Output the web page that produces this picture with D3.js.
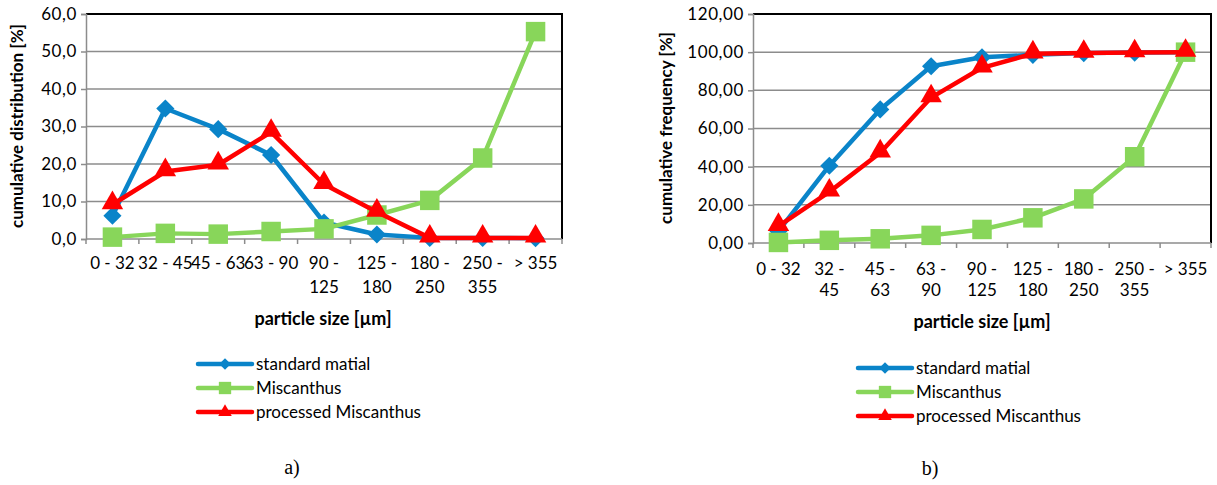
<!DOCTYPE html>
<html><head><meta charset="utf-8">
<script src="https://cdn.jsdelivr.net/npm/d3@7"></script>
<style>body{margin:0;background:#fff}svg{display:block}text{fill:#000}</style>
</head><body><svg id="c" width="1217" height="485"></svg>
<script>
const categories = ["0 - 32","32 - 45","45 - 63","63 - 90","90 - 125","125 - 180","180 - 250","250 - 355","> 355"];
const xLabelsA = [["0 - 32"],["32 - 45"],["45 - 63"],["63 - 90"],["90 -","125"],["125 -","180"],["180 -","250"],["250 -","355"],["> 355"]];
const xLabelsB = [["0 - 32"],["32 -","45"],["45 -","63"],["63 -","90"],["90 -","125"],["125 -","180"],["180 -","250"],["250 -","355"],["> 355"]];
const seriesNames = ["standard matial","Miscanthus","processed Miscanthus"];
// chart a: cumulative distribution [%]
const standardA  = [6.2, 34.8, 29.3, 22.4, 4.4, 1.2, 0.3, 0.3, 0.2];
const miscanthusA = [0.5, 1.5, 1.3, 2.0, 2.7, 6.4, 10.3, 21.6, 55.3];
const processedA = [9.2, 18.0, 19.8, 28.5, 14.6, 7.2, 0.3, 0.3, 0.3];
// chart b: cumulative frequency [%]
const standardB  = [6.2, 40.5, 70.0, 92.6, 97.3, 98.6, 99.5, 99.8, 100.0];
const miscanthusB = [0.3, 1.4, 2.2, 4.0, 7.1, 13.2, 23.1, 45.2, 100.0];
const processedB = [8.8, 26.8, 47.3, 76.2, 91.8, 99.2, 99.5, 99.8, 100.0];
const yTicksA = [0,10,20,30,40,50,60];
const yTicksB = [0,20,40,60,80,100,120];

const colors = ["#0a84c9","#88d65a","#ff0000"];
const squareDiamond = {draw(ctx,size){const r=Math.sqrt(size/2);ctx.moveTo(0,-r);ctx.lineTo(r,0);ctx.lineTo(0,r);ctx.lineTo(-r,0);ctx.closePath();}};
const symbols = [squareDiamond, d3.symbolSquare, d3.symbolTriangle];
const symSizes = [165, 380, 200];
const svg = d3.select("#c");
const SANS = "Lato, 'Open Sans', sans-serif";

function chart(cfg){
  const g = svg.append("g").style("font-family",SANS);
  const x = d3.scaleBand().domain(categories).range([cfg.x0, cfg.x1]);
  const y = d3.scaleLinear().domain([0, cfg.ymax]).range([cfg.y1, cfg.y0]);
  g.selectAll(".grid").data(cfg.yTicks.filter(t=>t>0 && t<cfg.ymax)).join("line")
    .attr("x1",cfg.x0).attr("x2",cfg.x1).attr("y1",d=>y(d)).attr("y2",d=>y(d))
    .attr("stroke","#8c8c8c").attr("stroke-width",1.5);
  g.append("path").attr("d",`M${cfg.x0},${y(cfg.ymax)}H${cfg.x1}V${y(0)}`).attr("fill","none").attr("stroke","#000").attr("stroke-width",2);
  const ya = d3.axisLeft(y).tickValues(cfg.yTicks).tickSize(5).tickPadding(4).tickFormat(cfg.fmt);
  const yg = g.append("g").attr("transform",`translate(${cfg.x0},0)`).call(ya);
  yg.attr("font-family",null).attr("font-size",null);
  yg.select(".domain").attr("stroke","#8c8c8c").attr("stroke-width",1.5);
  yg.selectAll(".tick line").attr("stroke","#8c8c8c").attr("stroke-width",1.5);
  yg.selectAll(".tick text").style("font-size","17px").style("font-family",SANS).attr("fill","#000").attr("letter-spacing","0.6px");
  g.append("line").attr("x1",cfg.x0).attr("x2",cfg.x1).attr("y1",y(0)).attr("y2",y(0)).attr("stroke","#8c8c8c").attr("stroke-width",1.5);
  const bounds = categories.map(c=>x(c)).concat([cfg.x1]);
  g.selectAll(".xt").data(bounds).join("line").attr("x1",d=>d).attr("x2",d=>d)
    .attr("y1",y(0)).attr("y2",y(0)+5).attr("stroke","#8c8c8c").attr("stroke-width",1.5);
  categories.forEach((c,i)=>{
    const t = g.append("text").attr("x",x(c)+x.bandwidth()/2).attr("y",cfg.labY).attr("text-anchor","middle").style("font-size","17px");
    cfg.labels[i].forEach((ln,j)=>t.append("tspan").attr("x",x(c)+x.bandwidth()/2).attr("dy",j?cfg.lineH:0).text(ln));
  });
  cfg.series.forEach((vals,si)=>{
    const line = d3.line().x((d,i)=>x(categories[i])+x.bandwidth()/2).y(d=>y(d));
    g.append("path").attr("d",line(vals)).attr("fill","none").attr("stroke",colors[si]).attr("stroke-width",4.5).attr("stroke-linejoin","round");
    g.selectAll(".m"+si).data(vals).join("path")
      .attr("transform",(d,i)=>`translate(${x(categories[i])+x.bandwidth()/2},${y(d)+(si===2?-1.5:0)})`)
      .attr("d",d3.symbol().type(symbols[si]).size(symSizes[si])).attr("fill",colors[si]);
  });
  g.append("text").attr("transform",`translate(${cfg.ytX},${cfg.ytY}) rotate(-90)`).attr("text-anchor","middle")
    .style("font-size","17px").style("font-weight","bold").text(cfg.yTitle);
  g.append("text").attr("x",cfg.xtX).attr("y",cfg.xtY).attr("text-anchor","middle").style("font-size","18px").style("font-weight","bold").text("particle size [µm]");
  seriesNames.forEach((n,i)=>{
    const ly = cfg.legY + i*24;
    g.append("line").attr("x1",cfg.legX).attr("x2",cfg.legX+54).attr("y1",ly).attr("y2",ly).attr("stroke",colors[i]).attr("stroke-width",4.5).attr("stroke-linecap","round");
    g.append("path").attr("transform",`translate(${cfg.legX+27},${ly})`).attr("d",d3.symbol().type(symbols[i]).size(symSizes[i]*0.4)).attr("fill",colors[i]);
    g.append("text").attr("x",cfg.legX+58).attr("y",ly+6).style("font-size","17px").text(n);
  });
  g.append("text").attr("x",cfg.capX).attr("y",cfg.capY).attr("text-anchor","middle").style("font-size","20px").style("font-family","'Liberation Serif', 'DejaVu Serif', serif").text(cfg.caption);
}

chart({x0:86,x1:562,y0:14,y1:239,ymax:60,yTicks:yTicksA,fmt:d=>d3.format(".1f")(d).replace(".",","),
  labels:xLabelsA,labY:269,lineH:24,series:[standardA,miscanthusA,processedA],
  yTitle:"cumulative distribution [%]",ytX:23,ytY:126,xtX:323,xtY:325,legX:198,legY:364,capX:292,capY:474,caption:"a)"});
chart({x0:753,x1:1211,y0:14,y1:243,ymax:120,yTicks:yTicksB,fmt:d=>d3.format(".2f")(d).replace(".",","),
  labels:xLabelsB,labY:275,lineH:21,series:[standardB,miscanthusB,processedB],
  yTitle:"cumulative frequency [%]",ytX:672,ytY:128,xtX:982,xtY:328,legX:858,legY:368,capX:930,capY:475,caption:"b)"});
</script></body></html>
